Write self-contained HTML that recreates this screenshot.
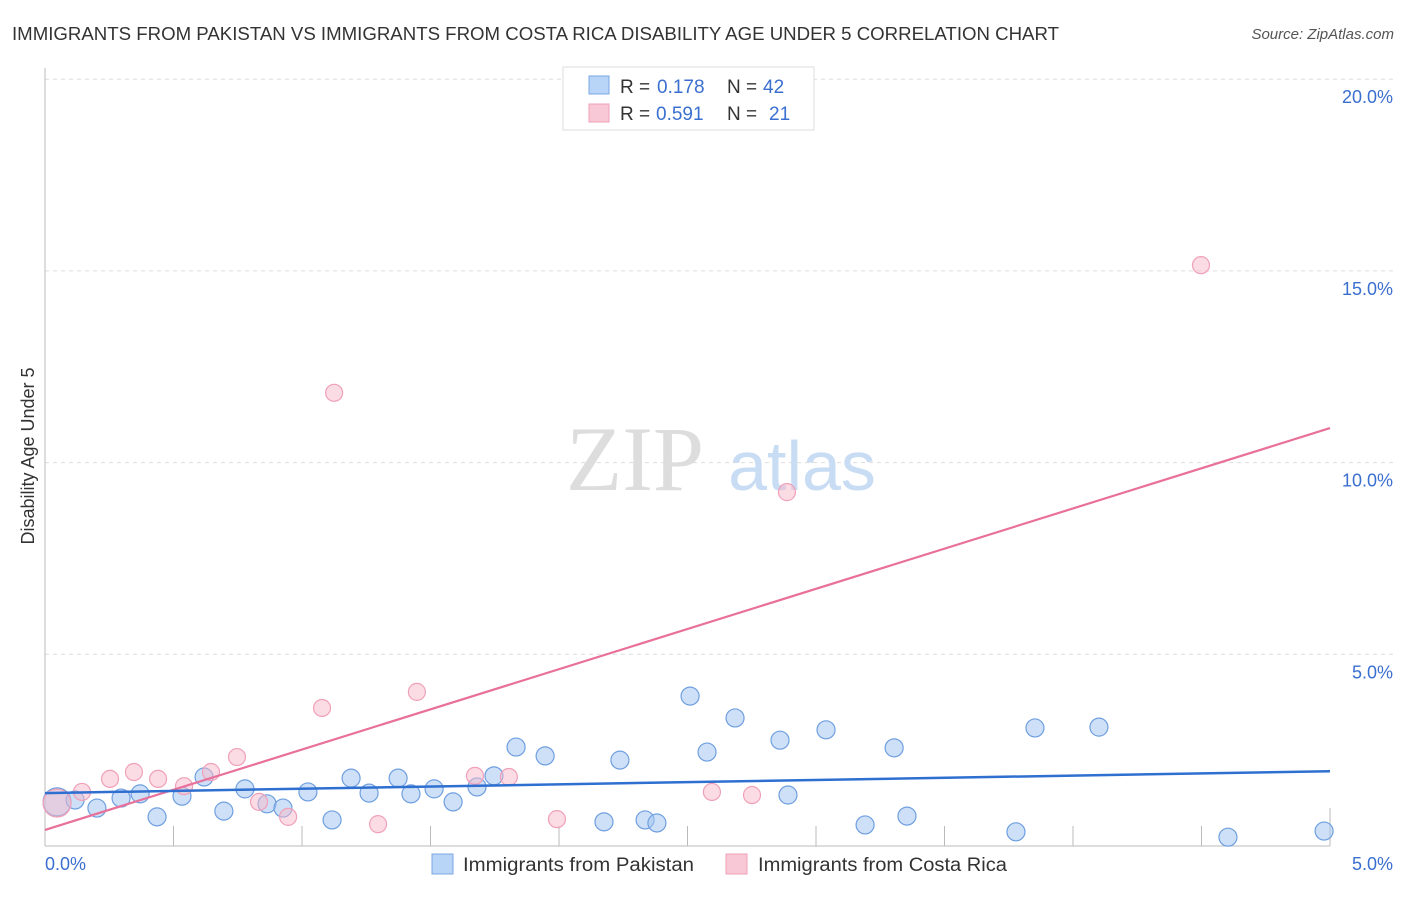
<!DOCTYPE html>
<html><head><meta charset="utf-8"><style>
body{margin:0;background:#fff;font-family:"Liberation Sans",sans-serif;}
</style></head><body>
<svg width="1406" height="892" xmlns="http://www.w3.org/2000/svg">
<text x="12" y="40" font-size="18" fill="#333" textLength="1047" lengthAdjust="spacingAndGlyphs">IMMIGRANTS FROM PAKISTAN VS IMMIGRANTS FROM COSTA RICA DISABILITY AGE UNDER 5 CORRELATION CHART</text>
<text x="1394" y="39" font-size="15" fill="#555" font-style="italic" text-anchor="end">Source: ZipAtlas.com</text>
<g id="grid"></g>
<text x="635" y="490" font-size="92" fill="#ddd" font-family="Liberation Serif,serif" text-anchor="middle">ZIP</text>
<text x="802" y="490" font-size="70" fill="#c8dcf4" text-anchor="middle">atlas</text>
<g id="axes"></g>
<g id="marks"></g>
<text x="34" y="456" font-size="18" fill="#333" text-anchor="middle" transform="rotate(-90 34 456)">Disability Age Under 5</text>
<g>
<rect x="563" y="67" width="251" height="63" fill="#fff" stroke="#ddd"/>
<rect x="589" y="76" width="20" height="18" fill="#b8d4f6" stroke="#7aa8e6"/>
<rect x="589" y="104" width="20" height="18" fill="#f9c8d6" stroke="#f0a0b8"/>
<text x="620" y="93" font-size="19" fill="#333">R =</text>
<text x="657" y="93" font-size="19" fill="#3a6fd0">0.178</text>
<text x="727" y="93" font-size="19" fill="#333">N =</text>
<text x="763" y="93" font-size="19" fill="#3a6fd0">42</text>
<text x="620" y="120" font-size="19" fill="#333">R =</text>
<text x="656" y="120" font-size="19" fill="#3a6fd0">0.591</text>
<text x="727" y="120" font-size="19" fill="#333">N =</text>
<text x="769" y="120" font-size="19" fill="#3a6fd0">21</text>
</g>
<g>
<rect x="432" y="854" width="21" height="20" fill="#b8d4f6" stroke="#7aa8e6"/>
<text x="463" y="871" font-size="19" fill="#333" textLength="231" lengthAdjust="spacingAndGlyphs">Immigrants from Pakistan</text>
<rect x="726" y="854" width="21" height="20" fill="#f9c8d6" stroke="#f0a0b8"/>
<text x="758" y="871" font-size="19" fill="#333" textLength="249" lengthAdjust="spacingAndGlyphs">Immigrants from Costa Rica</text>
</g>
</svg>
<script>
const yTicks=[5,10,15,20];
const yTickLabels=["5.0%","10.0%","15.0%","20.0%"];
const xTickLabels=["0.0%","5.0%"];
const pakX=[0.047,0.117,0.202,0.296,0.370,0.436,0.533,0.619,0.696,0.778,0.864,0.926,1.023,1.117,1.191,1.261,1.374,1.424,1.514,1.588,1.681,1.747,1.833,1.946,2.175,2.237,2.335,2.381,2.510,2.576,2.685,2.860,2.891,3.039,3.191,3.304,3.354,3.778,3.852,4.101,4.603,4.977];
const pakY=[1.15,1.20,0.99,1.25,1.36,0.76,1.30,1.80,0.91,1.49,1.10,0.99,1.41,0.68,1.77,1.38,1.77,1.36,1.49,1.15,1.54,1.83,2.58,2.35,0.63,2.24,0.68,0.60,3.91,2.45,3.34,2.76,1.33,3.03,0.55,2.56,0.78,0.37,3.08,3.10,0.23,0.39];
const crX=[0.047,0.144,0.253,0.346,0.440,0.541,0.646,0.747,0.833,0.946,1.078,1.125,1.296,1.447,1.673,1.805,1.992,2.595,2.751,2.887,4.498];
const crY=[1.12,1.41,1.75,1.93,1.75,1.56,1.93,2.32,1.15,0.76,3.60,11.82,0.57,4.02,1.83,1.80,0.70,1.41,1.33,9.23,15.15];
const pakTrend=[1.38,1.95];
const crTrend=[0.42,10.9];
const NS="http://www.w3.org/2000/svg";
const X=v=>45+v*257;
const Y=v=>846-v*38.34;
function mk(tag,attrs,parent){const e=document.createElementNS(NS,tag);for(const k in attrs)e.setAttribute(k,attrs[k]);document.getElementById(parent).appendChild(e);return e;}
yTicks.forEach((t,i)=>{
 const l=mk('line',{x1:45,x2:1394,y1:Y(t),y2:Y(t),stroke:'#ddd','stroke-dasharray':'4,4'},'grid');
 
 
 const tx=mk('text',{x:1393,y:Y(t)+24,'font-size':18,fill:'#3a6fd0','text-anchor':'end'},'axes');
 tx.textContent=yTickLabels[i];
 
 
});
let a=mk('line',{x1:45,x2:45,y1:68,y2:846,stroke:'#bbb'},'axes');


a=mk('line',{x1:45,x2:1330,y1:846,y2:846,stroke:'#bbb'},'axes');


for(let i=1;i<=10;i++){
 const t=mk('line',{x1:X(i*0.5),x2:X(i*0.5),y1:i==10?808:826,y2:846,stroke:'#bbb'},'axes');
 
 
}
let xl=mk('text',{x:45,y:870,'font-size':18,fill:'#3a6fd0'},'axes');xl.textContent=xTickLabels[0];


xl=mk('text',{x:1393,y:870,'font-size':18,fill:'#3a6fd0','text-anchor':'end'},'axes');xl.textContent=xTickLabels[1];


pakX.forEach((x,i)=>{
 const c=mk('circle',{cx:X(x),cy:Y(pakY[i]),r:i==0?14:9,fill:'rgba(164,198,240,0.55)',stroke:'#6f9fe0','stroke-width':1.2},'marks');
 
 
});
crX.forEach((x,i)=>{
 const c=mk('circle',{cx:X(x),cy:Y(crY[i]),r:i==0?14:8.5,fill:'rgba(248,186,204,0.5)',stroke:'#f0a0b8','stroke-width':1.2},'marks');
 
 
});
let tl=mk('line',{x1:X(0),y1:Y(crTrend[0]),x2:X(5),y2:Y(crTrend[1]),stroke:'#e8709a','stroke-width':2.2},'marks');


tl=mk('line',{x1:X(0),y1:Y(pakTrend[0]),x2:X(5),y2:Y(pakTrend[1]),stroke:'#2f6fd0','stroke-width':2.5},'marks');


</script>
</body></html>
